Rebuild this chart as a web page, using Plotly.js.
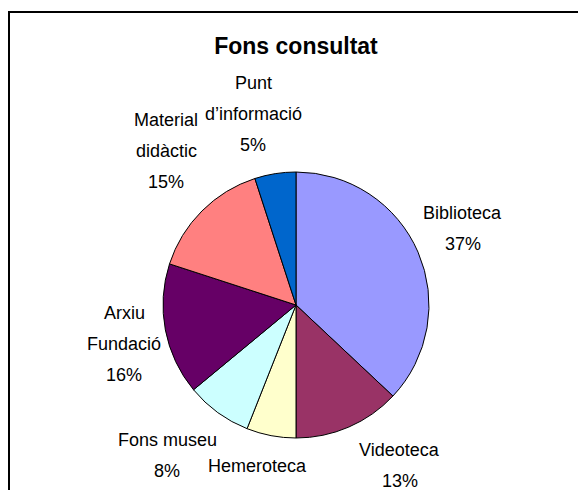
<!DOCTYPE html>
<html>
<head>
<meta charset="utf-8">
<script src="https://cdn.plot.ly/plotly-3.0.1.min.js"></script>
<style>html,body{margin:0;padding:0;background:#fff;}#chart{width:578px;height:490px;}</style>
</head>
<body>
<div id="chart"></div>
<script>
// Data
const categories = ["Biblioteca", "Videoteca", "Hemeroteca", "Fons museu", "Arxiu Fundació", "Material didàctic", "Punt d’informació"];
const values = [37, 13, 6, 8, 16, 15, 5];
const labelLines = [["Biblioteca"], ["Videoteca"], ["Hemeroteca"], ["Fons museu"], ["Arxiu", "Fundació"], ["Material", "didàctic"], ["Punt", "d’informació"]];
const colors = ["#9999FF", "#993366", "#FFFFCC", "#CCFFFF", "#660066", "#FF8080", "#0066CC"];

// Layout helpers (pixel positions of first label line centres)
const W = 578, H = 490;
const labelPos = [[463, 213], [400, 450], [257, 466], [167, 440], [124, 313], [166, 120], [253, 83]];
const lineGap = 31;

const total = values.reduce((a, b) => a + b, 0);
const annotations = [];
categories.forEach((c, i) => {
  const lines = labelLines[i].concat([Math.round(values[i] / total * 100) + "%"]);
  lines.forEach((t, j) => {
    annotations.push({
      text: t, showarrow: false, xref: "paper", yref: "paper",
      x: labelPos[i][0] / W, y: 1 - (labelPos[i][1] + j * lineGap) / H,
      xanchor: "center", yanchor: "middle",
      font: {family: "Liberation Sans, Arial, sans-serif", size: 18, color: "#000"}
    });
  });
});

const cx = 296, cy = 305, r = 133;
const data = [{
  type: "pie",
  labels: categories,
  values: values,
  sort: false,
  direction: "clockwise",
  rotation: 0,
  marker: {colors: colors, line: {color: "#000", width: 1}},
  textinfo: "none",
  hoverinfo: "label+percent",
  showlegend: false,
  domain: {x: [(cx - r) / W, (cx + r) / W], y: [1 - (cy + r) / H, 1 - (cy - r) / H]}
}];

const layout = {
  width: W, height: H,
  margin: {l: 0, r: 0, t: 0, b: 0},
  paper_bgcolor: "#fff",
  title: {text: "<b>Fons consultat</b>", x: 296 / W, xanchor: "center", y: 1 - 46 / H, yanchor: "middle", yref: "paper",
          font: {family: "Liberation Sans, Arial, sans-serif", size: 23, color: "#000"}},
  annotations: annotations,
  shapes: [{type: "rect", xref: "paper", yref: "paper", x0: 9 / W, x1: 1.2, y0: -0.2, y1: 1 - 12 / H,
            line: {color: "#000", width: 2}, fillcolor: "rgba(0,0,0,0)"}]
};

Plotly.newPlot("chart", data, layout, {displayModeBar: false, staticPlot: true});
</script>
</body>
</html>
